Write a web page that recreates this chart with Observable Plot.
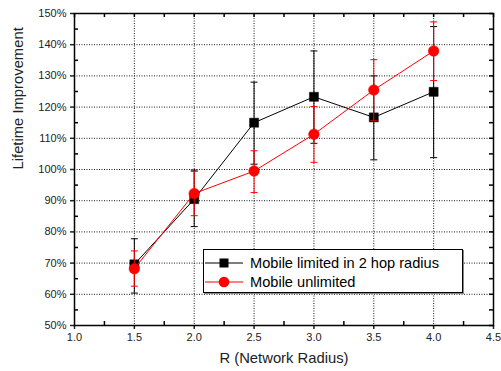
<!DOCTYPE html>
<html><head><meta charset="utf-8">
<script src="https://cdn.jsdelivr.net/npm/d3@7"></script>
<script src="https://cdn.jsdelivr.net/npm/@observablehq/plot@0.6"></script>
<style>
html,body{margin:0;padding:0;background:#fff;}
#wrap{position:relative;width:501px;height:371px;font-family:"Liberation Sans",Arial,sans-serif;}
#legend{position:absolute;left:203px;top:249px;width:260px;height:44px;border:1px solid #000;background:#fff;box-shadow:1px 1px 0 #888;box-sizing:border-box;}
.row{position:absolute;left:0;height:18px;display:flex;align-items:center;font-size:14.6px;color:#000;}
.row svg{display:block;margin-right:6px;}
</style>
</head><body>
<div id="wrap"></div>
<script>
const R = [1.5, 2.0, 2.5, 3.0, 3.5, 4.0];
const limited = [69.6, 90.5, 115.0, 123.3, 116.7, 124.9];
const limitedLow = [60.4, 81.7, 101.7, 108.4, 103.1, 103.8];
const limitedHigh = [77.8, 99.8, 128.0, 138.0, 130.0, 145.8];
const unlimited = [68.2, 92.3, 99.5, 111.3, 125.5, 138.0];
const unlimitedLow = [62.6, 85.2, 92.6, 102.3, 115.6, 128.5];
const unlimitedHigh = [73.9, 99.4, 106.0, 120.2, 135.2, 147.3];
const seriesNames = ["Mobile limited in 2 hop radius", "Mobile unlimited"];
const xTicks = [1.0, 1.5, 2.0, 2.5, 3.0, 3.5, 4.0, 4.5];
const xMinor = [1.25, 1.75, 2.25, 2.75, 3.25, 3.75, 4.25];
const yTicks = [50, 60, 70, 80, 90, 100, 110, 120, 130, 140, 150];
const yMinor = [55, 65, 75, 85, 95, 105, 115, 125, 135, 145];

const lim = R.map((r, i) => ({r, v: limited[i], lo: limitedLow[i], hi: limitedHigh[i]}));
const unl = R.map((r, i) => ({r, v: unlimited[i], lo: unlimitedLow[i], hi: unlimitedHigh[i]}));

const cap = {draw(ctx, size) { const w = 3.5; ctx.moveTo(-w, 0); ctx.lineTo(w, 0); }};

const W = 501, H = 371, mL = 74, mR = 8, mT = 13, mB = 46;
const ph = H - mT - mB, pw = W - mL - mR;
const grid = {stroke: "#000", strokeWidth: 1, strokeDasharray: "1,1.5", strokeOpacity: 0.9};

const chart = Plot.plot({
  width: W, height: H,
  marginLeft: mL, marginRight: mR, marginTop: mT, marginBottom: mB,
  style: {fontFamily: "Liberation Sans, Arial, sans-serif", fontSize: "11px", color: "#222", background: "#fff"},
  x: {domain: [1.0, 4.5]},
  y: {domain: [50, 150]},
  marks: [
    Plot.ruleX(xTicks.slice(1, -1), {x: d => d, ...grid}),
    Plot.ruleY(yTicks.slice(1, -1), {y: d => d, ...grid}),
    Plot.axisX({ticks: xTicks, tickSize: 4, tickPadding: 4, tickFormat: d3.format(".1f"), label: null, fill: "#222", strokeWidth: 1.5}),
    Plot.axisY({ticks: yTicks, tickSize: 4, tickPadding: 4, tickFormat: d => d + "%", label: null, fill: "#222", strokeWidth: 1.5}),
    Plot.tickX(xMinor, {x: d => d, insetTop: ph - 4, stroke: "#000", strokeWidth: 1.5}),
    Plot.tickX([...xTicks, ...xMinor], {x: d => d, insetBottom: ph - 4, stroke: "#000", strokeWidth: 1.5}),
    Plot.tickY(yMinor, {y: d => d, insetRight: pw - 4, stroke: "#000", strokeWidth: 1.5}),
    Plot.tickY([...yTicks, ...yMinor], {y: d => d, insetLeft: pw - 4, stroke: "#000", strokeWidth: 1.5}),
    Plot.frame({stroke: "#000", strokeWidth: 1.5}),
    // limited series
    Plot.ruleX(lim, {x: "r", y1: "lo", y2: "hi", stroke: "#000", strokeWidth: 1}),
    Plot.dot(lim, {x: "r", y: "lo", symbol: cap, r: 4, stroke: "#000", strokeWidth: 1}),
    Plot.dot(lim, {x: "r", y: "hi", symbol: cap, r: 4, stroke: "#000", strokeWidth: 1}),
    Plot.line(lim, {x: "r", y: "v", stroke: "#000", strokeWidth: 1}),
    Plot.dot(lim, {x: "r", y: "v", symbol: "square", r: 5.1, fill: "#000", stroke: "#000", strokeWidth: 0.5}),
    // unlimited series
    Plot.ruleX(unl, {x: "r", y1: "lo", y2: "hi", stroke: "#f00", strokeWidth: 1}),
    Plot.dot(unl, {x: "r", y: "lo", symbol: cap, r: 4, stroke: "#f00", strokeWidth: 1}),
    Plot.dot(unl, {x: "r", y: "hi", symbol: cap, r: 4, stroke: "#f00", strokeWidth: 1}),
    Plot.line(unl, {x: "r", y: "v", stroke: "#f00", strokeWidth: 1}),
    Plot.dot(unl, {x: "r", y: "v", symbol: "circle", r: 5.3, fill: "#f00", stroke: "#f00", strokeWidth: 0.5}),
    // axis titles
    Plot.text(["R (Network Radius)"], {frameAnchor: "bottom", dy: 37, text: d => d, fontSize: 14.8, fill: "#222"}),
    Plot.text(["Lifetime Improvement"], {frameAnchor: "left", dx: -56, rotate: -90, text: d => d, fontSize: 14.8, fill: "#222"})
  ]
});
const wrap = document.getElementById("wrap");
wrap.appendChild(chart);

const legend = document.createElement("div");
legend.id = "legend";
const sym = [
  '<svg width="40" height="12"><line x1="1" y1="6" x2="39" y2="6" stroke="#000" stroke-width="1"/><rect x="15.5" y="1.5" width="9" height="9" fill="#000"/></svg>',
  '<svg width="40" height="12"><line x1="1" y1="6" x2="39" y2="6" stroke="#f00" stroke-width="1"/><circle cx="20" cy="6" r="5.3" fill="#f00"/></svg>'
];
seriesNames.forEach((n, i) => {
  const row = document.createElement("div");
  row.className = "row";
  row.style.top = (i === 0 ? 4 : 23) + "px";
  row.innerHTML = sym[i] + "<span>" + n + "</span>";
  legend.appendChild(row);
});
wrap.appendChild(legend);
</script>
</body></html>
